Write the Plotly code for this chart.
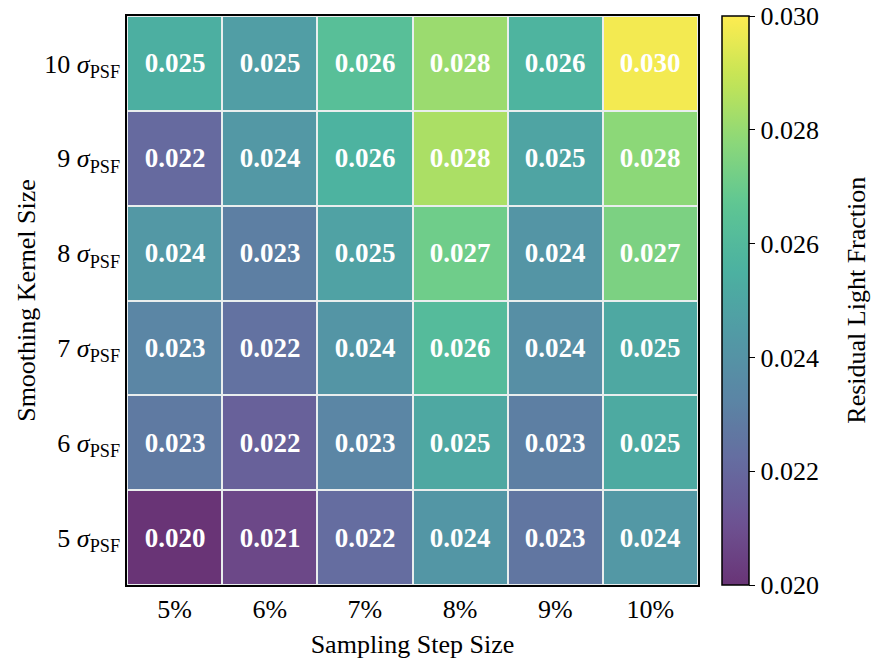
import plotly.graph_objects as go
from plotly.colors import sample_colorscale, hex_to_rgb
import plotly.colors as pc

# Sampling step sizes (columns) and smoothing kernel sizes (rows, bottom to top)
step_labels = ["5%", "6%", "7%", "8%", "9%", "10%"]
kernel_sizes = [5, 6, 7, 8, 9, 10]

# Residual light fraction per kernel size (row) and step size (column)
rlf_5 = [0.0200, 0.0207, 0.0222, 0.0242, 0.0226, 0.0243]
rlf_6 = [0.0228, 0.0217, 0.0233, 0.0251, 0.0230, 0.0252]
rlf_7 = [0.0233, 0.0224, 0.0241, 0.0261, 0.0238, 0.0251]
rlf_8 = [0.0243, 0.0230, 0.0248, 0.0271, 0.0241, 0.0274]
rlf_9 = [0.0221, 0.0243, 0.0256, 0.0284, 0.0249, 0.0278]
rlf_10 = [0.0254, 0.0246, 0.0263, 0.0281, 0.0257, 0.0298]

z = [rlf_5, rlf_6, rlf_7, rlf_8, rlf_9, rlf_10]

# Viridis faded over white (alpha 0.8) so the colour bar shows the same tones
alpha = 0.8
n = 41
pos = [i / (n - 1) for i in range(n)]
cols = sample_colorscale("Viridis", pos)
faded = []
for p, c in zip(pos, cols):
    r, g, b = pc.unlabel_rgb(c) if c.startswith("rgb") else hex_to_rgb(c)
    fr = round(r * alpha + 255 * (1 - alpha))
    fg = round(g * alpha + 255 * (1 - alpha))
    fb = round(b * alpha + 255 * (1 - alpha))
    faded.append([p, f"rgb({fr},{fg},{fb})"])

font_family = "Liberation Serif"
black = "black"

ytext = [f"{k} <i>σ</i><sub>PSF</sub>" for k in kernel_sizes]

fig = go.Figure(
    go.Heatmap(
        z=z,
        x=list(range(len(step_labels))),
        y=list(range(len(kernel_sizes))),
        colorscale=faded,
        zmin=0.020,
        zmax=0.030,
        xgap=2,
        ygap=2,
        texttemplate="<b>%{z:.3f}</b>",
        textfont=dict(family=font_family, size=27, color="white"),
        colorbar=dict(
            x=1.042,
            xanchor="left",
            xpad=0,
            ypad=0,
            y=0.5,
            yanchor="middle",
            len=1.0,
            lenmode="fraction",
            thickness=27,
            outlinecolor=black,
            outlinewidth=1.5,
            tickvals=[0.020, 0.022, 0.024, 0.026, 0.028, 0.030],
            ticktext=["0.020", "0.022", "0.024", "0.026", "0.028", "0.030"],
            ticks="outside",
            ticklen=6,
            tickwidth=1.2,
            tickcolor=black,
            tickfont=dict(family=font_family, size=26, color=black),
        ),
        hoverinfo="skip",
    )
)

fig.update_xaxes(
    range=[-0.5, 5.5],
    tickvals=list(range(len(step_labels))),
    ticktext=step_labels,
    ticks="",
    showgrid=False,
    zeroline=False,
    showline=True,
    mirror=True,
    linecolor=black,
    linewidth=1.5,
    tickfont=dict(family=font_family, size=26, color=black),
    title=dict(
        text="Sampling Step Size",
        font=dict(family=font_family, size=26, color=black),
        standoff=12,
    ),
)
fig.update_yaxes(
    range=[-0.5, 5.5],
    tickvals=list(range(len(kernel_sizes))),
    ticktext=ytext,
    ticks="",
    showgrid=False,
    zeroline=False,
    showline=True,
    mirror=True,
    linecolor=black,
    linewidth=1.5,
    tickfont=dict(family=font_family, size=26, color=black),
    title=dict(
        text="Smoothing Kernel Size",
        font=dict(family=font_family, size=26, color=black),
        standoff=1,
    ),
)

# Colour bar title, placed on the right of the bar
fig.add_annotation(
    text="Residual Light Fraction",
    xref="paper",
    yref="paper",
    x=1.277,
    y=0.5,
    xanchor="center",
    yanchor="middle",
    textangle=-90,
    showarrow=False,
    font=dict(family=font_family, size=26, color=black),
)

fig.update_layout(
    width=871,
    height=661,
    margin=dict(l=127, r=173, t=16, b=76, autoexpand=False),
    paper_bgcolor="white",
    plot_bgcolor="#e9eeee",
    showlegend=False,
)

fig.write_html("out.html")
